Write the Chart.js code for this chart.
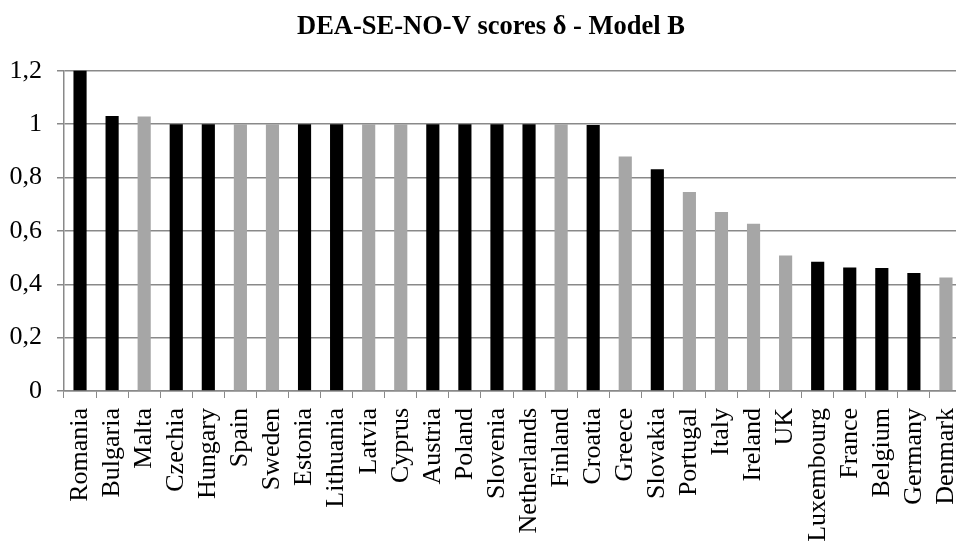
<!DOCTYPE html>
<html>
<head>
<meta charset="utf-8">
<script src="https://cdn.jsdelivr.net/npm/chart.js@4.4.0/dist/chart.umd.min.js"></script>
<style>
  html, body { margin: 0; padding: 0; overflow: hidden; background: #fff; }
  #wrap { width: 964px; height: 541px; }
</style>
</head>
<body>
<div id="wrap"><canvas id="grafico"></canvas></div>
<script>
var paesi = ['Romania', 'Bulgaria', 'Malta', 'Czechia', 'Hungary', 'Spain', 'Sweden', 'Estonia', 'Lithuania', 'Latvia',
    'Cyprus', 'Austria', 'Poland', 'Slovenia', 'Netherlands', 'Finland', 'Croatia', 'Greece', 'Slovakia', 'Portugal',
    'Italy', 'Ireland', 'UK', 'Luxembourg', 'France', 'Belgium', 'Germany', 'Denmark'];
var punteggi = [1.25, 1.031, 1.029, 1, 1, 1, 1, 1, 1, 1,
    1, 1, 1, 1, 1, 1, 0.997, 0.879, 0.831, 0.746,
    0.671, 0.627, 0.508, 0.484, 0.463, 0.461, 0.442, 0.425];
// 'n' = nero, 'g' = grigio
var gruppi = ['n', 'n', 'g', 'n', 'n', 'g', 'g', 'n', 'n', 'g',
    'g', 'n', 'n', 'n', 'n', 'g', 'n', 'g', 'n', 'g',
    'g', 'g', 'g', 'n', 'n', 'n', 'n', 'g'];
var tickY = [0, 0.2, 0.4, 0.6, 0.8, 1, 1.2];

var colori = gruppi.map(function(g) { return g === 'n' ? '#000000' : '#a6a6a6'; });
var font = 'Liberation Serif';
var grigio = '#898989';

// il titolo nell'originale non e' centrato sulla pagina: lo sposto un po' a destra
var spostaTitolo = {
    id: 'spostaTitolo',
    afterLayout: function(chart) {
        if (chart.titleBlock) chart.titleBlock.left += 20;
    }
};

new Chart(document.getElementById('grafico'), {
    type: 'bar',
    data: {
        labels: paesi,
        datasets: [{
            data: punteggi,
            backgroundColor: colori,
            borderWidth: 0,
            categoryPercentage: 1,
            barPercentage: 0.41
        }]
    },
    options: {
        responsive: true,
        maintainAspectRatio: false,
        animation: false,
        layout: { padding: { left: 0, right: 2, top: 0, bottom: 0 } },
        plugins: {
            legend: { display: false },
            tooltip: { enabled: false },
            title: {
                display: true,
                text: 'DEA-SE-NO-V scores δ - Model B',
                color: '#000',
                font: { family: font, size: 26.5, weight: 'bold' },
                padding: { top: 11, bottom: 28 }
            }
        },
        scales: {
            x: {
                offset: true,
                grid: { offset: true, drawOnChartArea: false, drawTicks: true, tickLength: 7, color: grigio, lineWidth: 1 },
                border: { color: grigio, width: 1.5 },
                ticks: {
                    autoSkip: false, maxRotation: 90, minRotation: 90, padding: 10,
                    color: '#000', font: { family: font, size: 26 }
                },
                afterFit: function(scale) {
                    scale.height = 150;
                    scale.paddingLeft = 0;
                    scale.paddingRight = 0;
                }
            },
            y: {
                min: 0,
                max: 1.2,
                afterBuildTicks: function(scale) {
                    scale.ticks = tickY.map(function(v) { return { value: v }; });
                },
                grid: { drawTicks: true, tickLength: 7, color: grigio, lineWidth: 1.5 },
                border: { color: grigio, width: 1.5 },
                ticks: {
                    padding: 15, color: '#000', font: { family: font, size: 26 },
                    callback: function(v) { return String(Math.round(v * 10) / 10).replace('.', ','); }
                },
                afterFit: function(scale) { scale.width = 64; }
            }
        }
    },
    plugins: [spostaTitolo]
});
</script>
</body>
</html>
